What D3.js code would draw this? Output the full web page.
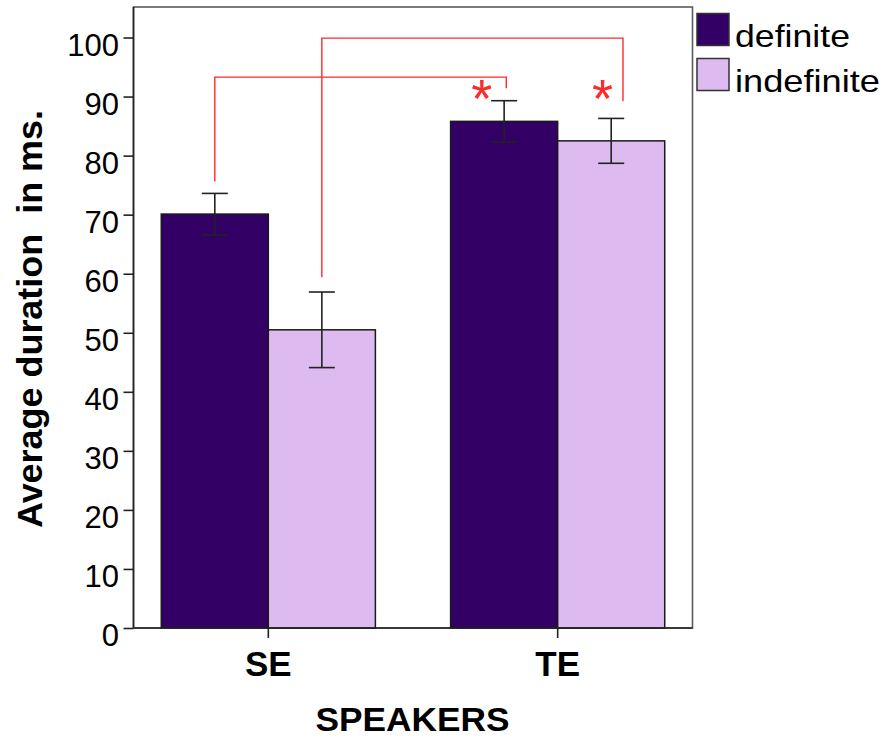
<!DOCTYPE html>
<html>
<head>
<meta charset="utf-8">
<script src="https://cdn.jsdelivr.net/npm/d3@7"></script>
<style>
  body { margin: 0; background: #fff; }
  text { font-family: "Liberation Sans", Arial, sans-serif; }
</style>
</head>
<body>
<div id="chart"></div>
<script>
// values
const groups = ["SE", "TE"];
const subgroups = ["definite", "indefinite"];
const definiteMeans = [70.1, 85.8];
const indefiniteMeans = [50.5, 82.5];
const definiteErr = [3.5, 3.5];
const indefiniteErr = [6.4, 3.8];
const yTicks = [0, 10, 20, 30, 40, 50, 60, 70, 80, 90, 100];

// significance brackets (data units, shift = fraction of bar width)
const brackets = [
  { from: ["SE", "definite"], to: ["TE", "definite"], top: 93.3, fromEnd: 75.6, toEnd: 91.4, toShift: 0.02 },
  { from: ["SE", "indefinite"], to: ["TE", "indefinite"], top: 99.9, fromEnd: 59.4, toEnd: 89.2, toShift: 0.11 }
];
const stars = [
  { at: ["TE", "definite"], shift: -0.21, value: 91.7 },
  { at: ["TE", "indefinite"], shift: -0.08, value: 91.7 }
];

const colors = { definite: "#330066", indefinite: "#ddbbf0" };

const W = 884, H = 739;
const plotL = 133.5, plotR = 692.5, plotT = 7, plotB = 628;

const svg = d3.select("#chart").append("svg")
    .attr("width", W)
    .attr("height", H);

// rows for drawing
const data = groups.map((g, i) => ({
  group: g,
  definite: definiteMeans[i], definiteErr: definiteErr[i],
  indefinite: indefiniteMeans[i], indefiniteErr: indefiniteErr[i]
}));

const x = d3.scaleBand()
    .domain(groups)
    .range([plotL, plotR])
    .paddingInner(0.26)
    .paddingOuter(0.096);

const xSub = d3.scaleBand()
    .domain(subgroups)
    .range([0, x.bandwidth()])
    .padding(0);

const y = d3.scaleLinear()
    .domain([0, 105])
    .range([plotB, plotT + 1]);

const xc = (g, k, shift) => x(g) + xSub(k) + xSub.bandwidth() * (0.5 + (shift || 0));

// frame
svg.append("rect")
    .attr("x", plotL).attr("y", plotT)
    .attr("width", plotR - plotL).attr("height", plotB - plotT)
    .attr("fill", "none")
    .attr("stroke", "#5a5a5a")
    .attr("stroke-width", 1.6);

// bars
svg.append("g")
  .selectAll("g")
  .data(data)
  .join("g")
    .attr("transform", d => `translate(${x(d.group)},0)`)
  .selectAll("rect")
  .data(d => subgroups.map(k => ({ key: k, value: d[k] })))
  .join("rect")
    .attr("x", d => xSub(d.key))
    .attr("y", d => y(d.value))
    .attr("width", xSub.bandwidth())
    .attr("height", d => y(0) - y(d.value))
    .attr("fill", d => colors[d.key])
    .attr("stroke", "#1a1a1a")
    .attr("stroke-width", 1.5);

// error bars
const errs = [];
data.forEach(d => subgroups.forEach(k => errs.push({ group: d.group, key: k, value: d[k], err: d[k + "Err"] })));
const capW = 13;
const eg = svg.append("g").attr("stroke", "#222").attr("stroke-width", 1.6).attr("fill", "none");
errs.forEach(d => {
  const cx = xc(d.group, d.key);
  eg.append("line").attr("x1", cx).attr("x2", cx).attr("y1", y(d.value + d.err)).attr("y2", y(d.value - d.err));
  eg.append("line").attr("x1", cx - capW).attr("x2", cx + capW).attr("y1", y(d.value + d.err)).attr("y2", y(d.value + d.err));
  eg.append("line").attr("x1", cx - capW).attr("x2", cx + capW).attr("y1", y(d.value - d.err)).attr("y2", y(d.value - d.err));
});

// y axis
const yAxis = svg.append("g")
    .attr("transform", `translate(${plotL},0)`)
    .call(d3.axisLeft(y).tickValues(yTicks).tickSize(10).tickPadding(4.5));
yAxis.select(".domain").remove();
yAxis.selectAll("line").attr("stroke", "#222").attr("stroke-width", 1.6);
yAxis.selectAll("text")
    .attr("font-family", "Liberation Sans, Arial, sans-serif")
    .attr("font-size", 31)
    .attr("fill", "#000")
    .attr("dy", "0.58em");

// axis lines
svg.append("line")
    .attr("x1", plotL).attr("x2", plotL).attr("y1", plotT).attr("y2", plotB)
    .attr("stroke", "#222").attr("stroke-width", 1.6);
svg.append("line")
    .attr("x1", plotL).attr("x2", plotR).attr("y1", plotB).attr("y2", plotB)
    .attr("stroke", "#222").attr("stroke-width", 1.6);

// x axis
const xAxis = svg.append("g")
    .attr("transform", `translate(0,${plotB})`)
    .call(d3.axisBottom(x).tickSize(10).tickPadding(13));
xAxis.select(".domain").remove();
xAxis.selectAll("line").attr("stroke", "#222").attr("stroke-width", 1.6);
xAxis.selectAll("text")
    .attr("font-family", "Liberation Sans, Arial, sans-serif")
    .attr("font-size", 35)
    .attr("font-weight", "bold")
    .attr("fill", "#000");

// axis titles
svg.append("text")
    .attr("x", (plotL + plotR) / 2 - 0.5)
    .attr("y", 731)
    .attr("text-anchor", "middle")
    .attr("font-size", 33)
    .attr("font-weight", "bold")
    .attr("textLength", 194)
    .attr("lengthAdjust", "spacingAndGlyphs")
    .text("SPEAKERS");

svg.append("text")
    .attr("transform", `translate(42,${(plotT + plotB) / 2 + 1.5}) rotate(-90)`)
    .attr("text-anchor", "middle")
    .attr("font-size", 35)
    .attr("font-weight", "bold")
    .style("white-space", "pre")
    .attr("textLength", 418)
    .attr("lengthAdjust", "spacingAndGlyphs")
    .text("Average duration  in ms.");

// brackets
const red = "#ff2a2a";
svg.append("g")
  .selectAll("path")
  .data(brackets)
  .join("path")
    .attr("fill", "none")
    .attr("stroke", red)
    .attr("stroke-width", 1.4)
    .attr("d", b => {
      const x0 = xc(b.from[0], b.from[1]);
      const x1 = xc(b.to[0], b.to[1], b.toShift);
      return `M${x0},${y(b.fromEnd)}V${y(b.top)}H${x1}V${y(b.toEnd)}`;
    });

// stars
svg.append("g")
  .selectAll("text")
  .data(stars)
  .join("text")
    .attr("x", s => xc(s.at[0], s.at[1], s.shift))
    .attr("y", s => y(s.value))
    .attr("dy", "0.56em")
    .attr("text-anchor", "middle")
    .attr("font-size", 54)
    .attr("fill", red)
    .text("*");

// legend
const legend = svg.append("g")
  .selectAll("g")
  .data(subgroups)
  .join("g")
    .attr("transform", (d, i) => `translate(697,${13.5 + i * 45})`);
legend.append("rect")
    .attr("width", 32).attr("height", 32)
    .attr("fill", d => colors[d])
    .attr("stroke", "#333")
    .attr("stroke-width", 1.5);
legend.append("text")
    .attr("x", 38)
    .attr("y", 33)
    .attr("font-size", 32)
    .attr("textLength", d => d === "definite" ? 115 : 145)
    .attr("lengthAdjust", "spacingAndGlyphs")
    .attr("fill", "#000")
    .text(d => d);
</script>
</body>
</html>
